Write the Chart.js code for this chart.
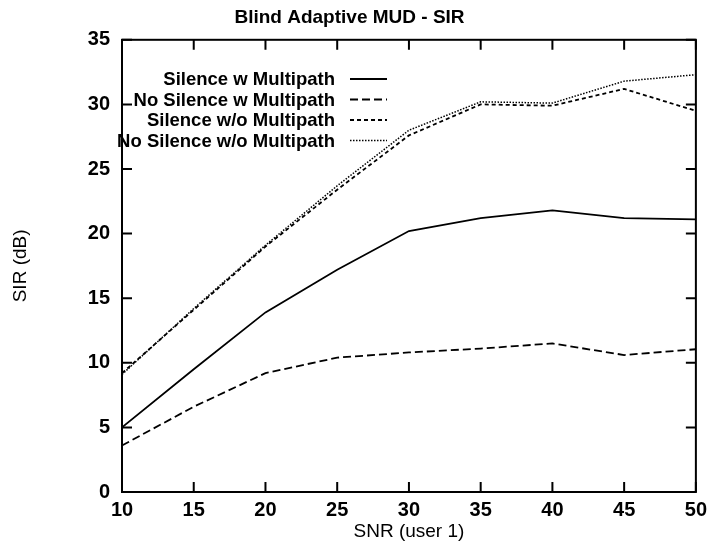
<!DOCTYPE html>
<html>
<head>
<meta charset="utf-8">
<script src="https://cdn.jsdelivr.net/npm/chart.js@4"></script>
<style>
    body { margin: 0; background: #fff; }
</style>
</head>
<body>
<canvas id="chart" width="713" height="550"></canvas>
<script>
// values
const snr = [10, 15, 20, 25, 30, 35, 40, 45, 50];
const silenceMulti = [5.0, 9.5, 13.9, 17.2, 20.2, 21.2, 21.8, 21.2, 21.1];
const noSilenceMulti = [3.6, 6.6, 9.2, 10.4, 10.8, 11.1, 11.5, 10.6, 11.05];
const silenceNoMulti = [9.2, 14.1, 19.0, 23.4, 27.6, 30.0, 29.9, 31.2, 29.5];
const noSilenceNoMulti = [9.1, 14.2, 19.1, 23.7, 28.0, 30.2, 30.1, 31.8, 32.3];

const seriesNames = [
    "Silence w Multipath",
    "No Silence w Multipath",
    "Silence w/o Multipath",
    "No Silence w/o Multipath"
];

const FONT = "'Liberation Sans', Arial, sans-serif";

function points(values) {
    return values.map((v, i) => ({ x: snr[i], y: v }));
}

function line(label, values, dash, width) {
    return {
        label: label,
        data: points(values),
        borderColor: "#000",
        backgroundColor: "#000",
        borderWidth: width,
        borderDash: dash,
        pointRadius: 0,
        tension: 0,
        fill: false
    };
}

// box around plot with inward ticks on all four sides (gnuplot look)
const frameTicks = {
    id: "frameTicks",
    afterDraw(chart) {
        const ctx = chart.ctx;
        const a = chart.chartArea;
        const xs = chart.scales.x;
        const ys = chart.scales.y;
        const len = 10;

        ctx.save();
        ctx.strokeStyle = "#000";
        ctx.lineWidth = 2;
        ctx.strokeRect(a.left, a.top, a.right - a.left, a.bottom - a.top);

        ctx.beginPath();
        xs.ticks.forEach(t => {
            const px = xs.getPixelForValue(t.value);
            ctx.moveTo(px, a.bottom);
            ctx.lineTo(px, a.bottom - len);
            ctx.moveTo(px, a.top);
            ctx.lineTo(px, a.top + len);
        });
        ys.ticks.forEach(t => {
            const py = ys.getPixelForValue(t.value);
            ctx.moveTo(a.left, py);
            ctx.lineTo(a.left + len, py);
            ctx.moveTo(a.right, py);
            ctx.lineTo(a.right - len, py);
        });
        ctx.stroke();
        ctx.restore();
    }
};

// key in the top left: text right aligned, line sample after it
const keyLegend = {
    id: "keyLegend",
    afterDraw(chart) {
        const ctx = chart.ctx;
        const textRight = 335;
        const sampleLeft = 350;
        const sampleRight = 387;
        const firstRow = 79;
        const rowGap = 20.5;

        ctx.save();
        ctx.font = "bold 18.5px " + FONT;
        ctx.textAlign = "right";
        ctx.textBaseline = "middle";
        ctx.fillStyle = "#000";

        chart.data.datasets.forEach((ds, i) => {
            const y = firstRow + i * rowGap;
            ctx.fillText(ds.label, textRight, y + 1);
            ctx.beginPath();
            ctx.setLineDash(ds.borderDash || []);
            ctx.lineWidth = ds.borderWidth;
            ctx.strokeStyle = ds.borderColor;
            ctx.moveTo(sampleLeft, y);
            ctx.lineTo(sampleRight, y);
            ctx.stroke();
        });
        ctx.restore();
    }
};

new Chart(document.getElementById("chart"), {
    type: "line",
    data: {
        datasets: [
            line(seriesNames[0], silenceMulti, [], 1.8),
            line(seriesNames[1], noSilenceMulti, [8, 4], 1.8),
            line(seriesNames[2], silenceNoMulti, [4, 3], 1.8),
            line(seriesNames[3], noSilenceNoMulti, [1.5, 1.5], 1.5)
        ]
    },
    options: {
        responsive: false,
        animation: false,
        layout: { padding: { left: 0, right: 14, top: 0, bottom: 0 } },
        plugins: {
            legend: { display: false },
            tooltip: { enabled: false },
            title: {
                display: true,
                text: "Blind Adaptive MUD - SIR",
                color: "#000",
                font: { family: FONT, size: 19, weight: "bold" },
                padding: { top: 6, bottom: 11 }
            }
        },
        scales: {
            x: {
                type: "linear",
                min: 10,
                max: 50,
                afterFit: s => { s.height = 58; },
                grid: { display: false, drawTicks: false },
                border: { display: false },
                ticks: {
                    stepSize: 5,
                    color: "#000",
                    padding: 6,
                    maxRotation: 0,
                    font: { family: FONT, size: 20, weight: "bold" }
                },
                title: {
                    display: true,
                    text: "SNR (user 1)",
                    color: "#000",
                    font: { family: FONT, size: 19 },
                    padding: { top: 0, bottom: 7 }
                }
            },
            y: {
                min: 0,
                max: 35,
                afterFit: s => { s.width = 122; },
                grid: { display: false, drawTicks: false },
                border: { display: false },
                ticks: {
                    stepSize: 5,
                    color: "#000",
                    padding: 12,
                    font: { family: FONT, size: 20, weight: "bold" }
                },
                title: {
                    display: true,
                    text: "SIR (dB)",
                    color: "#000",
                    font: { family: FONT, size: 19 },
                    padding: { top: 9, bottom: 0 }
                }
            }
        }
    },
    plugins: [frameTicks, keyLegend]
});
</script>
</body>
</html>
